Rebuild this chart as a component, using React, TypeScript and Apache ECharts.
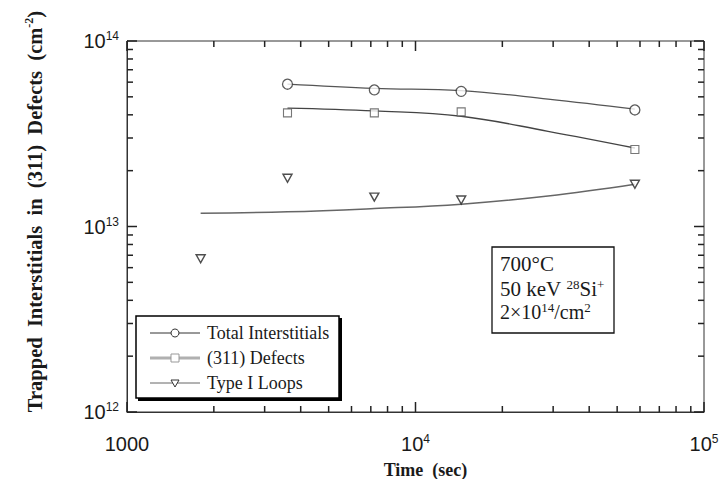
import React, { useEffect, useRef } from "react";
import * as echarts from "echarts";

// ---- Data ----
const times = [3600, 7200, 14400, 57600];
const totalInterstitials = [5.85e13, 5.45e13, 5.35e13, 4.25e13];
const defects311 = [4.1e13, 4.1e13, 4.15e13, 2.6e13];
const loopTimes = [1800, 3600, 7200, 14400, 57600];
const typeILoops = [6.7e12, 1.82e13, 1.44e13, 1.39e13, 1.69e13];

// fitted curves
const fitTimes = [3600, 7200, 14400, 28800, 57600];
const fitTotal = [5.86e13, 5.56e13, 5.4e13, 4.86e13, 4.29e13];
const fit311 = [4.35e13, 4.2e13, 3.93e13, 3.26e13, 2.65e13];
const fitLoopTimes = [1800, 3600, 7200, 14400, 28800, 57600];
const fitLoops = [1.18e13, 1.2e13, 1.25e13, 1.32e13, 1.46e13, 1.69e13];

// axis ticks
const X_MIN = 1000;
const X_MAX = 100000;
const Y_MIN = 1e12;
const Y_MAX = 1e14;
const xTickValues = [
  1000, 2000, 3000, 4000, 5000, 6000, 7000, 8000, 9000,
  10000, 20000, 30000, 40000, 50000, 60000, 70000, 80000, 90000, 100000,
];
const xMajorTicks = [1000, 10000, 100000];
const yTickValues = [
  1e12, 2e12, 3e12, 4e12, 5e12, 6e12, 7e12, 8e12, 9e12,
  1e13, 2e13, 3e13, 4e13, 5e13, 6e13, 7e13, 8e13, 9e13, 1e14,
];
const yMajorTicks = [1e12, 1e13, 1e14];

const SERIF = '"Liberation Serif", "Times New Roman", serif';
const SANS = '"Liberation Sans", Arial, sans-serif';
const INK = "#1a1a1a";

export default function App() {
  const ref = useRef<HTMLDivElement>(null);

  useEffect(() => {
    if (!ref.current) return;
    const chart = echarts.init(ref.current, undefined, { renderer: "svg" });

    const expOf = (v: number) => Math.round(Math.log10(v));
    const tickRich = {
      b: { fontFamily: SANS, fontSize: 20, color: INK, lineHeight: 22 },
      s: { fontFamily: SANS, fontSize: 12, color: INK, lineHeight: 12, verticalAlign: "top" as const },
    };

    const legendItems = [
      { label: "Total Interstitials", y: 333, stroke: "#333", lw: 1, sym: "circle" },
      { label: "(311) Defects", y: 358, stroke: "#b0b0b0", lw: 3, sym: "square" },
      { label: "Type I Loops", y: 383, stroke: "#666", lw: 1, sym: "tri" },
    ];
    const legendGraphics: any[] = [
      { type: "rect", shape: { x: 138, y: 318, width: 204, height: 83 }, style: { fill: "#000" }, z: 10 },
      {
        type: "rect",
        shape: { x: 136, y: 316, width: 203, height: 82 },
        style: { fill: "#fff", stroke: "#000", lineWidth: 1.5 },
        z: 10,
      },
    ];
    legendItems.forEach((it) => {
      legendGraphics.push({
        type: "line",
        shape: { x1: 150, y1: it.y, x2: 200, y2: it.y },
        style: { stroke: it.stroke, lineWidth: it.lw },
        z: 11,
      });
      if (it.sym === "circle") {
        legendGraphics.push({
          type: "circle",
          shape: { cx: 175, cy: it.y, r: 4 },
          style: { fill: "#fff", stroke: "#333", lineWidth: 1 },
          z: 12,
        });
      } else if (it.sym === "square") {
        legendGraphics.push({
          type: "rect",
          shape: { x: 171, y: it.y - 4, width: 8, height: 8 },
          style: { fill: "#fff", stroke: "#999", lineWidth: 1 },
          z: 12,
        });
      } else {
        legendGraphics.push({
          type: "polygon",
          shape: { points: [[171, it.y - 3], [179, it.y - 3], [175, it.y + 4]] },
          style: { fill: "#fff", stroke: "#333", lineWidth: 1 },
          z: 12,
        });
      }
      legendGraphics.push({
        type: "text",
        x: 207,
        y: it.y,
        z: 12,
        style: {
          text: it.label,
          fontFamily: SERIF,
          fontSize: 18,
          fill: INK,
          verticalAlign: "middle",
        },
      });
    });

    const supRich = () => ({
      s: { fontFamily: SERIF, fontSize: 13, lineHeight: 13, verticalAlign: "top" as const, fill: INK, color: INK },
    });
    const annotation: any[] = [
      {
        type: "rect",
        shape: { x: 492, y: 247, width: 122, height: 86 },
        style: { fill: "#fff", stroke: "#111", lineWidth: 1.3 },
        z: 10,
      },
      {
        type: "text",
        x: 500,
        y: 264,
        z: 11,
        style: { text: "700°C", fontFamily: SERIF, fontSize: 21, fill: INK, verticalAlign: "middle" },
      },
      {
        type: "text",
        x: 500,
        y: 289,
        z: 11,
        style: {
          text: "50 keV {s|28}Si{s|+}",
          fontFamily: SERIF,
          fontSize: 21,
          lineHeight: 22,
          fill: INK,
          verticalAlign: "middle",
          rich: supRich(),
        },
      },
      {
        type: "text",
        x: 500,
        y: 312,
        z: 11,
        style: {
          text: "2×10{s|14}/cm{s|2}",
          fontFamily: SERIF,
          fontSize: 20,
          lineHeight: 22,
          fill: INK,
          verticalAlign: "middle",
          rich: supRich(),
        },
      },
    ];

    const option: any = {
      animation: false,
      backgroundColor: "#fff",
      grid: {
        left: 127,
        right: 16,
        top: 41,
        bottom: 67,
        outerBoundsMode: "none",
        containLabel: false,
        show: true,
        borderColor: "#333",
        borderWidth: 1,
        backgroundColor: "transparent",
      },
      xAxis: {
        type: "log",
        logBase: 10,
        min: X_MIN,
        max: X_MAX,
        axisLine: { show: true, lineStyle: { color: "#333", width: 1 } },
        axisTick: { show: false },
        splitLine: { show: false },
        axisLabel: {
          margin: 21,
          formatter: (v: number) => {
            const e = expOf(v);
            return e === 3 ? "{b|1000}" : `{b|10}{s|${e}}`;
          },
          rich: tickRich,
        },
        name: "{n|Time  (sec)}",
        nameLocation: "middle",
        nameGap: 49,
        nameTextStyle: {
          rich: { n: { fontFamily: SERIF, fontSize: 18, fontWeight: "bold", color: INK } },
          padding: [0, 0, 0, 20],
        },
      },
      yAxis: {
        type: "log",
        logBase: 10,
        min: Y_MIN,
        max: Y_MAX,
        axisLine: { show: true, lineStyle: { color: "#333", width: 1 } },
        axisTick: { show: false },
        splitLine: { show: false },
        axisLabel: {
          margin: 8,
          formatter: (v: number) => `{b|10}{s|${expOf(v)}}`,
          rich: tickRich,
        },
        name: "{n|Trapped  Interstitials  in  (311)  Defects  (cm}{s|-2}{n|)}",
        nameLocation: "middle",
        nameGap: 81,
        nameTextStyle: {
          rich: {
            n: { fontFamily: SERIF, fontSize: 20.5, fontWeight: "bold", color: INK, lineHeight: 23 },
            s: { fontFamily: SERIF, fontSize: 12, fontWeight: "bold", color: INK, lineHeight: 12, verticalAlign: "top" },
          },
          padding: [0, 0, 0, 30],
        },
      },
      series: [
        {
          name: "Total Interstitials fit",
          type: "line",
          data: fitTimes.map((t, i) => [t, fitTotal[i]]),
          smooth: 0.4,
          showSymbol: false,
          lineStyle: { color: "#555", width: 1.3 },
          silent: true,
          z: 2,
        },
        {
          name: "(311) Defects fit",
          type: "line",
          data: fitTimes.map((t, i) => [t, fit311[i]]),
          smooth: 0.4,
          showSymbol: false,
          lineStyle: { color: "#444", width: 1.3 },
          silent: true,
          z: 2,
        },
        {
          name: "Type I Loops fit",
          type: "line",
          data: fitLoopTimes.map((t, i) => [t, fitLoops[i]]),
          smooth: 0.4,
          showSymbol: false,
          lineStyle: { color: "#666", width: 1.5 },
          silent: true,
          z: 2,
        },
        {
          name: "Total Interstitials",
          type: "scatter",
          data: times.map((t, i) => [t, totalInterstitials[i]]),
          symbol: "circle",
          symbolSize: 10,
          itemStyle: { color: "#fff", borderColor: "#333", borderWidth: 1.3 },
          z: 3,
        },
        {
          name: "(311) Defects",
          type: "scatter",
          data: times.map((t, i) => [t, defects311[i]]),
          symbol: "rect",
          symbolSize: 8,
          itemStyle: { color: "#fff", borderColor: "#555", borderWidth: 1.1 },
          z: 3,
        },
        {
          name: "Type I Loops",
          type: "scatter",
          data: loopTimes.map((t, i) => [t, typeILoops[i]]),
          symbol: "triangle",
          symbolRotate: 180,
          symbolSize: [9, 8],
          itemStyle: { color: "#fff", borderColor: "#222", borderWidth: 1.4 },
          z: 3,
        },
      ],
    };

    chart.setOption(option);

    // Tick marks on all four sides, positioned through the chart's own log scales
    const ticks: any[] = [];
    const tick = (x1: number, y1: number, x2: number, y2: number) =>
      ticks.push({ type: "line", z: 6, shape: { x1, y1, x2, y2 }, style: { stroke: "#222", lineWidth: 1.5 } });
    xTickValues.forEach((v) => {
      const len = xMajorTicks.includes(v) ? 10 : 6;
      const b = chart.convertToPixel({ gridIndex: 0 }, [v, Y_MIN]) as number[];
      const t = chart.convertToPixel({ gridIndex: 0 }, [v, Y_MAX]) as number[];
      if (!b || !t) return;
      tick(b[0], b[1], b[0], b[1] - len);
      tick(t[0], t[1], t[0], t[1] + len);
    });
    yTickValues.forEach((v) => {
      const len = yMajorTicks.includes(v) ? 10 : 6;
      const l = chart.convertToPixel({ gridIndex: 0 }, [X_MIN, v]) as number[];
      const r = chart.convertToPixel({ gridIndex: 0 }, [X_MAX, v]) as number[];
      if (!l || !r) return;
      tick(l[0], l[1], l[0] + len, l[1]);
      tick(r[0], r[1], r[0] - len, r[1]);
    });

    chart.setOption({ graphic: [...ticks, ...legendGraphics, ...annotation] });

    return () => chart.dispose();
  }, []);

  return (
    <div
      ref={ref}
      style={{ position: "fixed", left: 0, top: 0, width: 720, height: 479, background: "#fff" }}
    />
  );
}
